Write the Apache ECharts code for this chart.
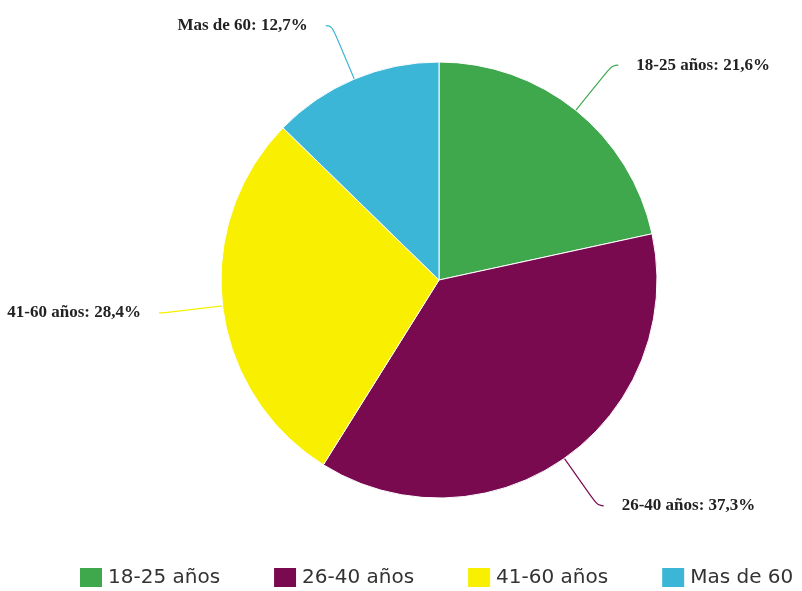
<!DOCTYPE html>
<html><head><meta charset="utf-8">
<script src="https://cdn.jsdelivr.net/npm/echarts@6/dist/echarts.min.js"></script>
<style>html,body{margin:0;padding:0;background:#fff}#c{width:802px;height:591px}</style>
</head><body><div id="c"></div>
<script>
const categories = ['18-25 años', '26-40 años', '41-60 años', 'Mas de 60'];
const values = [21.6, 37.3, 28.4, 12.7];
const colors = ['#3fa84d', '#790a4f', '#f8f000', '#3cb6d6'];

const chart = echarts.init(document.getElementById('c'));
chart.setOption({
  animation: false,
  color: colors,
  legend: {
    top: 561,
    left: 73,
    padding: [5, 5, 5, 5],
    itemWidth: 24,
    itemHeight: 21,
    itemGap: 52,
    icon: 'rect',
    textStyle: { fontFamily: 'DejaVu Sans', fontSize: 20, color: '#333' },
    data: categories
  },
  series: [{
    type: 'pie',
    center: [439, 280],
    radius: 218,
    startAngle: 90,
    clockwise: true,
    itemStyle: { borderColor: '#fff', borderWidth: 1 },
    label: {
      show: true,
      formatter: function (p) { return p.name + ': ' + p.value.toFixed(1).replace('.', ',') + '%'; },
      fontFamily: 'Liberation Serif',
      fontWeight: 'bold',
      fontSize: 17,
      color: '#222',
      overflow: 'none',
      distanceToLabelLine: 18
    },
    labelLine: { show: true, length: 58, length2: 6, smooth: 0.5, lineStyle: { width: 1.2 } },
    data: categories.map((n, i) => ({ name: n, value: values[i] }))
  }]
});
</script></body></html>
